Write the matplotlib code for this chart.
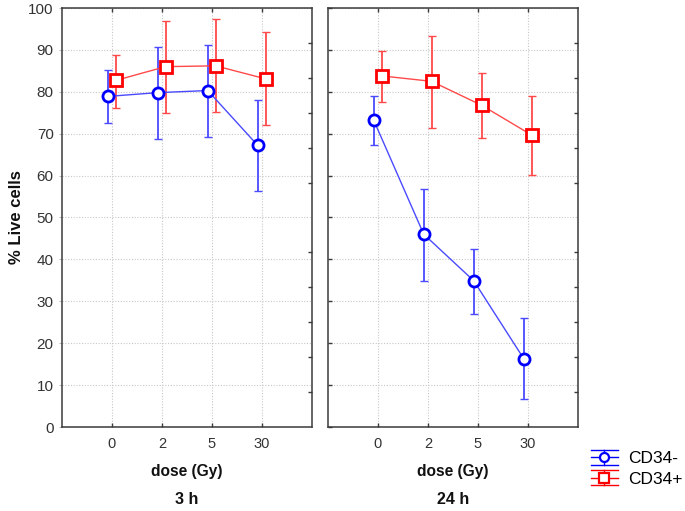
import matplotlib
matplotlib.use("Agg")
import matplotlib.pyplot as plt
from matplotlib.legend_handler import HandlerBase
from matplotlib.lines import Line2D
import numpy as np

plt.rcParams['font.family'] = ['Liberation Sans', 'DejaVu Sans']

doses = ["0", "2", "5", "30"]
panels = ["3 h", "24 h"]

# CD34- (blue circles): mean, lower, upper
cd34neg_3h = [78.9, 79.8, 80.3, 67.2]
cd34neg_3h_lo = [72.5, 68.8, 69.2, 56.3]
cd34neg_3h_hi = [85.1, 90.8, 91.1, 78.1]
cd34neg_24h = [73.2, 46.0, 34.9, 16.3]
cd34neg_24h_lo = [67.2, 34.8, 27.0, 6.6]
cd34neg_24h_hi = [79.1, 56.8, 42.6, 25.9]

# CD34+ (red squares)
cd34pos_3h = [82.7, 86.0, 86.2, 83.1]
cd34pos_3h_lo = [76.1, 74.9, 75.2, 72.1]
cd34pos_3h_hi = [88.9, 96.8, 97.3, 94.2]
cd34pos_24h = [83.8, 82.5, 76.8, 69.7]
cd34pos_24h_lo = [77.6, 71.4, 69.0, 60.1]
cd34pos_24h_hi = [89.8, 93.3, 84.5, 79.1]

series = {
    "3 h": [
        ("CD34-", cd34neg_3h, cd34neg_3h_lo, cd34neg_3h_hi),
        ("CD34+", cd34pos_3h, cd34pos_3h_lo, cd34pos_3h_hi),
    ],
    "24 h": [
        ("CD34-", cd34neg_24h, cd34neg_24h_lo, cd34neg_24h_hi),
        ("CD34+", cd34pos_24h, cd34pos_24h_lo, cd34pos_24h_hi),
    ],
}

style = {
    "CD34-": dict(color="#0000ff", line="#4a4aff", marker="o", ms=8, off=-0.085),
    "CD34+": dict(color="#ff0000", line="#ff4a4a", marker="s", ms=8, off=0.07),
}

W, H = 685, 511
fig = plt.figure(figsize=(W / 100, H / 100), dpi=100)

axes_px = [(62, 312), (328, 578)]
top_px, bot_px = 8, 427
spine_col = "#3a3a3a"

for i, (panel, (x0, x1)) in enumerate(zip(panels, axes_px)):
    ax = fig.add_axes([x0 / W, 1 - bot_px / H, (x1 - x0) / W, (bot_px - top_px) / H])
    x = np.arange(1, len(doses) + 1)
    for name, mean, lo, hi in series[panel]:
        st = style[name]
        mean = np.array(mean)
        yerr = np.vstack([mean - np.array(lo), np.array(hi) - mean])
        xp = x + st["off"]
        ax.errorbar(xp, mean, yerr=yerr, fmt="none", ecolor=st["line"],
                    elinewidth=1.3, capsize=2.6, capthick=1.0, zorder=3)
        ax.plot(xp, mean, color=st["line"], lw=1.0, zorder=4)
        ax.plot(xp, mean, linestyle="none", marker=st["marker"], ms=st["ms"],
                mfc="white", mec=st["color"], mew=2.0, zorder=5)
    ax.set_xlim(0, 5)
    ax.set_ylim(0, 100)
    ax.set_xticks(x)
    ax.set_xticklabels(doses)
    ax.set_yticks(np.arange(0, 101, 10))
    ax.grid(True, color="#c8c8c8", linestyle=(0, (1, 1.5)), linewidth=0.8, zorder=0)
    ax.set_axisbelow(True)
    for sp in ax.spines.values():
        sp.set_color(spine_col)
        sp.set_linewidth(1.1)
    ax.tick_params(axis="x", direction="in", length=3, width=1, color=spine_col,
                   top=True, labelsize=10.5, pad=7, labelcolor="#333333")
    if i == 0:
        ax.tick_params(axis="y", direction="out", length=2, width=0.8, color="#bbbbbb",
                       labelsize=11, pad=4, labelcolor="#333333")
        ax.set_yticklabels([str(v) for v in range(0, 101, 10)])
    else:
        ax.tick_params(axis="y", direction="in", length=3, width=1, color=spine_col,
                       labelleft=False)
    # right-side inner minor ticks
    ax.set_yticks(np.arange(1, 12) * 100 / 12, minor=True)
    ax.tick_params(axis="y", which="minor", direction="in", right=True, left=False,
                   length=3, width=1, color=spine_col)
    ax.text(0.5, -0.107, "dose (Gy)", transform=ax.transAxes, ha="center", va="center",
            fontsize=11.2, fontweight="bold", color="#111111")
    ax.text(0.5, -0.172, panel, transform=ax.transAxes, ha="center", va="center",
            fontsize=11.5, fontweight="bold", color="#111111")

fig.text(17 / W, 1 - ((top_px + bot_px) / 2) / H, "% Live cells", rotation=90,
         ha="center", va="center", fontsize=12, fontweight="bold", color="#111111")


class ErrHandler(HandlerBase):
    def create_artists(self, legend, orig_handle, xdescent, ydescent, width, height,
                       fontsize, trans):
        c = orig_handle.get_markeredgecolor()
        m = orig_handle.get_marker()
        cy = height / 2 - ydescent
        x0 = -xdescent
        x1 = x0 + width
        xc = (x0 + x1) / 2
        dy = 5.4
        arts = []
        for yy in (cy - dy, cy, cy + dy):
            arts.append(Line2D([x0, x1], [yy, yy], color=c, lw=1.0))
        arts.append(Line2D([xc, xc], [cy - dy, cy + dy], color=c, lw=1.0))
        arts.append(Line2D([xc], [cy], marker=m, ms=6.5, mfc="white", mec=c, mew=1.6,
                           linestyle="none"))
        for a in arts:
            a.set_transform(trans)
        return arts


handles = [Line2D([], [], marker=style[k]["marker"], mec=style[k]["color"])
           for k in ("CD34-", "CD34+")]
fig.legend(handles, ["CD34-", "CD34+"], handler_map={Line2D: ErrHandler()},
           loc="center left", bbox_to_anchor=(591 / W, 1 - 469 / H),
           frameon=False, borderpad=0, borderaxespad=0, fontsize=12.5,
           handlelength=1.55, handletextpad=0.6, labelspacing=0.3)

fig.savefig("out.png", dpi=100)
